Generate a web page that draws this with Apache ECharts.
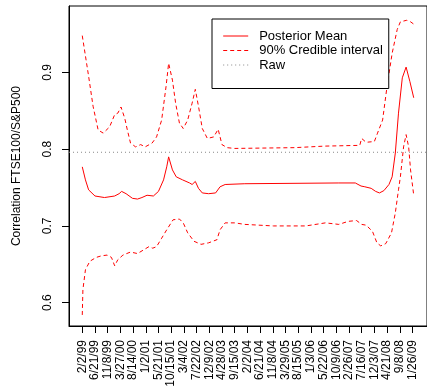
<!DOCTYPE html>
<html>
<head>
<meta charset="utf-8">
<script src="https://cdn.jsdelivr.net/npm/echarts@6/dist/echarts.min.js"></script>
<style>
  html, body { margin: 0; padding: 0; background: #fff; }
  #chart { width: 427px; height: 390px; }
</style>
</head>
<body>
<div id="chart"></div>
<script>
// x values are weeks since 2/2/99, one tick label every 20 weeks
const tickLabels = [
  "2/2/99", "6/21/99", "11/8/99", "3/27/00", "8/14/00", "1/2/01", "5/21/01",
  "10/15/01", "3/4/02", "7/22/02", "12/9/02", "4/28/03", "9/15/03", "2/2/04",
  "6/21/04", "11/8/04", "3/29/05", "8/15/05", "1/3/06", "5/22/06", "10/9/06",
  "2/26/07", "7/16/07", "12/3/07", "4/21/08", "9/8/08", "1/26/09"
];
const weeksPerTick = 20;
const yTicks = [0.6, 0.7, 0.8, 0.9];

const rawCorrelation = 0.796;

// [week, correlation]
const posteriorMean = [
  [0, 0.777], [5, 0.760], [10, 0.747], [20, 0.739], [35, 0.737], [51, 0.739],
  [58, 0.742], [62, 0.745], [69, 0.742], [79, 0.736], [87, 0.735], [94, 0.737],
  [102, 0.740], [112, 0.739], [120, 0.745], [128, 0.760], [133, 0.777],
  [136, 0.790], [142, 0.773], [148, 0.764], [158, 0.760], [169, 0.756],
  [173, 0.754], [178, 0.758], [183, 0.749], [189, 0.743], [199, 0.742],
  [210, 0.743], [217, 0.751], [225, 0.754], [256, 0.755], [404, 0.756],
  [430, 0.756], [439, 0.752], [445, 0.751], [455, 0.749], [462, 0.745],
  [468, 0.743], [475, 0.746], [483, 0.754], [488, 0.764], [493, 0.795],
  [498, 0.847], [504, 0.893], [510, 0.907], [516, 0.888], [522, 0.867]
];

const upperBand = [
  [0, 0.948], [10, 0.895], [17, 0.856], [25, 0.825], [33, 0.821], [43, 0.829],
  [51, 0.845], [56, 0.847], [61, 0.855], [67, 0.840], [71, 0.825], [76, 0.808],
  [84, 0.803], [92, 0.806], [99, 0.803], [110, 0.808], [117, 0.816],
  [125, 0.838], [132, 0.882], [136, 0.912], [142, 0.890], [147, 0.860],
  [153, 0.834], [159, 0.827], [166, 0.838], [173, 0.860], [178, 0.878],
  [183, 0.856], [189, 0.827], [197, 0.814], [207, 0.816], [214, 0.826],
  [220, 0.806], [228, 0.802], [240, 0.801], [334, 0.802], [381, 0.804],
  [437, 0.805], [440, 0.814], [447, 0.809], [460, 0.810], [465, 0.821],
  [473, 0.838], [480, 0.882], [488, 0.925], [496, 0.956], [501, 0.966],
  [511, 0.968], [517, 0.966], [522, 0.963]
];

const lowerBand = [
  [0, 0.584], [1, 0.617], [5, 0.643], [12, 0.654], [22, 0.659], [30, 0.661],
  [39, 0.662], [46, 0.659], [51, 0.648], [56, 0.656], [64, 0.662], [76, 0.666],
  [87, 0.664], [97, 0.669], [105, 0.673], [111, 0.671], [117, 0.673],
  [125, 0.684], [133, 0.695], [143, 0.708], [153, 0.709], [159, 0.704],
  [166, 0.691], [176, 0.680], [187, 0.676], [199, 0.678], [212, 0.682],
  [217, 0.695], [225, 0.704], [240, 0.704], [256, 0.702], [301, 0.700],
  [352, 0.700], [383, 0.704], [404, 0.702], [419, 0.706], [432, 0.707],
  [440, 0.702], [447, 0.701], [457, 0.693], [464, 0.678], [470, 0.674],
  [478, 0.677], [487, 0.691], [493, 0.717], [498, 0.747], [501, 0.764],
  [506, 0.803], [510, 0.819], [514, 0.803], [517, 0.773], [522, 0.740]
];

// R style axis ranges (4% padding past the data)
const xMin = -20.9, xMax = 542.9;
const yMin = 0.5696, yMax = 0.9866;

const font = "Liberation Sans, Arial, sans-serif";
const red = "#ff0000";
const dash = [4, 3];

const chart = echarts.init(document.getElementById("chart"));

chart.setOption({
  animation: false,
  grid: {
    left: 69, top: 6, height: 320, right: -8.5,
    show: true, borderColor: "#000", borderWidth: 1
  },
  legend: {
    orient: "vertical",
    left: 212, top: 19,
    data: ["Posterior Mean", "90% Credible interval", "Raw"],
    itemWidth: 25, itemHeight: 15, itemGap: 1.5,
    padding: [10.5, 6, 17, 10.7],
    borderColor: "#000", borderWidth: 1,
    backgroundColor: "#fff",
    selectedMode: false,
    // hide the symbol, keep only a thin line sample
    itemStyle: { opacity: 0, borderWidth: 0 },
    lineStyle: { width: 1 },
    textStyle: { fontFamily: font, fontSize: 13, color: "#000", padding: [0, 0, 0, 6] }
  },
  xAxis: {
    type: "value", min: xMin, max: xMax,
    splitLine: { show: false },
    axisLine: { show: true, onZero: false, lineStyle: { color: "#000" } },
    axisTick: {
      length: 7, lineStyle: { color: "#000" },
      customValues: tickLabels.map((_, i) => i * weeksPerTick)
    },
    axisLabel: {
      rotate: 90, margin: 14,
      fontFamily: font, fontSize: 12, color: "#000",
      customValues: tickLabels.map((_, i) => i * weeksPerTick),
      formatter: v => tickLabels[Math.round(v / weeksPerTick)] || ""
    }
  },
  yAxis: {
    type: "value", min: yMin, max: yMax,
    name: "Correlation FTSE100/S&P500",
    nameLocation: "middle", nameRotate: 90, nameGap: 46,
    nameTextStyle: { fontFamily: font, fontSize: 12, color: "#000" },
    splitLine: { show: false },
    axisLine: { show: true, onZero: false, lineStyle: { color: "#000" } },
    axisTick: { length: 7, lineStyle: { color: "#000" }, customValues: yTicks },
    axisLabel: {
      rotate: 90, margin: 15,
      fontFamily: font, fontSize: 12, color: "#000",
      customValues: yTicks,
      formatter: v => v.toFixed(1)
    }
  },
  series: [
    {
      name: "Posterior Mean", type: "line", data: posteriorMean,
      symbol: "none", lineStyle: { color: red, width: 1 }, itemStyle: { color: red }
    },
    {
      name: "90% Credible interval", type: "line", data: upperBand,
      symbol: "none", lineStyle: { color: red, width: 1, type: dash }, itemStyle: { color: red }
    },
    {
      name: "90% Credible interval", type: "line", data: lowerBand,
      symbol: "none", lineStyle: { color: red, width: 1, type: dash }, itemStyle: { color: red }
    },
    {
      name: "Raw", type: "line",
      data: [[xMin, rawCorrelation], [xMax, rawCorrelation]],
      symbol: "none", lineStyle: { color: "#888", width: 1, type: [1, 3] }, itemStyle: { color: "#888" }
    }
  ]
});
</script>
</body>
</html>
